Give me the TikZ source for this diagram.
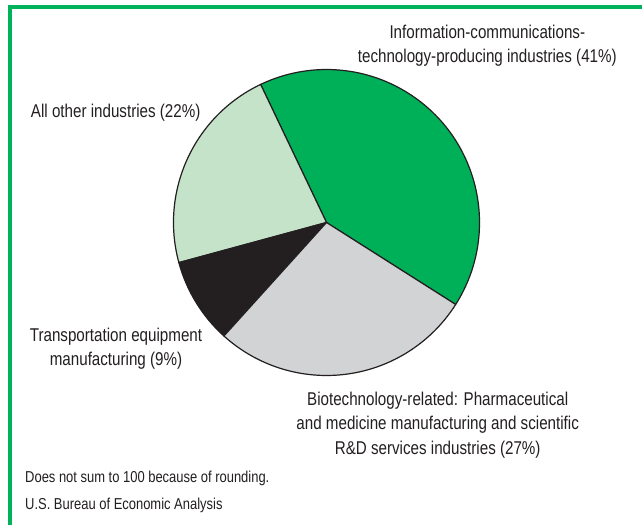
\documentclass[tikz,border=0pt]{standalone}
\usepackage{fontspec}
\setmainfont{Liberation Sans}[FakeStretch=0.82]
\definecolor{ictgreen}{RGB}{0,176,88}
\definecolor{palegreen}{RGB}{197,227,201}
\definecolor{lightgrey}{RGB}{209,211,212}
\definecolor{nearblack}{RGB}{35,31,32}
\definecolor{framegreen}{RGB}{0,178,90}
\begin{document}
\begin{tikzpicture}[x=1pt,y=1pt,
  slice/.style={draw=nearblack,line width=1.2pt,line join=round},
  lbl/.style={font=\fontsize{18.5}{24}\selectfont,inner sep=0pt,anchor=base,text=nearblack},
  note/.style={font=\fontsize{15.8}{20}\selectfont,inner sep=0pt,anchor=base west,text=nearblack}]
\useasboundingbox (0,0) rectangle (642,525);
% frame
\draw[framegreen,line width=4pt,line join=miter] (10,0) -- (10,518) -- (642,518);
% pie
\coordinate (c) at (326.5,302.5);
\def\R{153pt}
\filldraw[slice,fill=ictgreen] (c) -- ++(-32.4:\R) arc[start angle=-32.4,end angle=115.5,radius=\R] -- cycle;
\filldraw[slice,fill=palegreen] (c) -- ++(115.5:\R) arc[start angle=115.5,end angle=195.2,radius=\R] -- cycle;
\filldraw[slice,fill=nearblack] (c) -- ++(195.2:\R) arc[start angle=195.2,end angle=227.9,radius=\R] -- cycle;
\filldraw[slice,fill=lightgrey] (c) -- ++(227.9:\R) arc[start angle=227.9,end angle=327.6,radius=\R] -- cycle;
% labels
\node[lbl] (ict1) at (487.3,486.7) {Information-communications-};
\node[lbl] (ict2) at (487.3,462.5) {technology-producing industries (41\%)};
\node[lbl] (oth) at (115.7,407.5) {All other industries (22\%)};
\node[lbl] (tr1) at (116,183.5) {Transportation equipment};
\node[lbl] (tr2) at (116,159.5) {manufacturing (9\%)};
\node[lbl] (bio1) at (437.7,120) {Biotechnology-related: Pharmaceutical};
\node[lbl] (bio2) at (437.7,95.5) {and medicine manufacturing and scientific};
\node[lbl] (bio3) at (437.7,71) {R\&D services industries (27\%)};
\node[note] (n1) at (25,42.3) {Does not sum to 100 because of rounding.};
\node[note] (n2) at (25,15.7) {U.S. Bureau of Economic Analysis};
\end{tikzpicture}
\end{document}
